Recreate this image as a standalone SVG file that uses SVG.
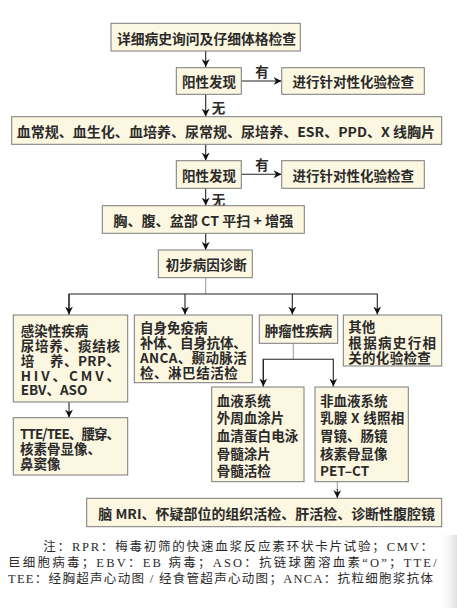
<svg xmlns="http://www.w3.org/2000/svg" width="457" height="608" viewBox="0 0 457 608">
<defs>
<style>
.box{fill:#FCF7E1;stroke:#7a7a7a;stroke-width:1}
.t{font-family:"Noto Sans CJK SC","Liberation Sans",sans-serif;font-size:13.5px;font-weight:bold;fill:#2a2a2a;dominant-baseline:central}
.c{text-anchor:middle}
.ln{stroke:#222;stroke-width:1.1;fill:none}
.gl{stroke:#999;stroke-width:1;fill:none}
.fn{font-family:"Liberation Serif","Noto Sans CJK SC",serif;font-size:12.5px;fill:#2a2a2a}
</style>
<marker id="ah" markerUnits="userSpaceOnUse" markerWidth="9" markerHeight="9" refX="8" refY="4" orient="auto">
<path d="M0,0 L8,4 L0,8 L2.5,4 z" fill="#111"/>
</marker>
<linearGradient id="sh" x1="0" y1="0" x2="1" y2="0">
<stop offset="0" stop-color="#fff" stop-opacity="0"/>
<stop offset="1" stop-color="#d8d8d8" stop-opacity="0.8"/>
</linearGradient>
</defs>
<rect width="457" height="608" fill="#fff"/>
<rect x="438" y="535" width="19" height="73" fill="url(#sh)"/>

<g id="connectors">
<line class="ln" x1="205.7" y1="51" x2="205.7" y2="67" marker-end="url(#ah)"/>
<line class="ln" x1="241.3" y1="81" x2="281.5" y2="81" marker-end="url(#ah)"/>
<line class="ln" x1="205.7" y1="94.3" x2="205.7" y2="116.5" marker-end="url(#ah)"/>
<line class="ln" x1="205.7" y1="144.3" x2="205.7" y2="160.5" marker-end="url(#ah)"/>
<line class="ln" x1="241.3" y1="174.3" x2="281.5" y2="174.3" marker-end="url(#ah)"/>
<line class="ln" x1="205.7" y1="188.3" x2="205.7" y2="205.5" marker-end="url(#ah)"/>
<line class="ln" x1="205.7" y1="233.3" x2="205.7" y2="249.8" marker-end="url(#ah)"/>
<line class="gl" x1="205.7" y1="277.7" x2="205.7" y2="294"/>
<polyline class="ln" points="69,314.5 69,294 377.3,294 377.3,314.5" marker-end="url(#ah)"/>
<line class="ln" x1="69" y1="294" x2="69" y2="314.5" marker-end="url(#ah)"/>
<line class="ln" x1="185" y1="294" x2="185" y2="314.5" marker-end="url(#ah)"/>
<line class="ln" x1="292.3" y1="294" x2="292.3" y2="314.5" marker-end="url(#ah)"/>
<line class="gl" x1="293.3" y1="343.3" x2="293.3" y2="359.3"/>
<polyline class="ln" points="263.3,386.5 263.3,359.3 333.3,359.3 333.3,386.5" marker-end="url(#ah)"/>
<line class="ln" x1="263.3" y1="359.3" x2="263.3" y2="386.5" marker-end="url(#ah)"/>
<line class="ln" x1="69" y1="402" x2="69" y2="417.5" marker-end="url(#ah)"/>
<line class="gl" x1="337.3" y1="481.7" x2="337.3" y2="490"/>
<line class="ln" x1="337.3" y1="489" x2="337.3" y2="498" marker-end="url(#ah)"/>
<text class="t c" x="262" y="71">有</text>
<text class="t c" x="218.5" y="106.5">无</text>
<text class="t c" x="262" y="164">有</text>
<text class="t c" x="218.5" y="199">无</text>
</g>

<g id="n1"><rect class="box" x="111" y="23.3" width="189.3" height="27.7"/>
<text class="t c" x="206.5" y="37.5" textLength="179" lengthAdjust="spacingAndGlyphs">详细病史询问及仔细体格检查</text></g>

<g id="n2"><rect class="box" x="176.3" y="67.7" width="65" height="26.6"/>
<text class="t c" x="209" y="81">阳性发现</text></g>

<g id="n3"><rect class="box" x="281.7" y="67.7" width="142.6" height="26.6"/>
<text class="t c" x="353.3" y="81">进行针对性化验检查</text></g>

<g id="n4"><rect class="box" x="11.7" y="116.7" width="430" height="27.6"/>
<text class="t" x="16.7" y="130.5" textLength="418.3" lengthAdjust="spacingAndGlyphs">血常规、血生化、血培养、尿常规、尿培养、ESR、PPD、X 线胸片</text></g>

<g id="n5"><rect class="box" x="176.3" y="160.7" width="65" height="27.6"/>
<text class="t c" x="209" y="174.5">阳性发现</text></g>

<g id="n6"><rect class="box" x="281.7" y="160.7" width="142.6" height="27.6"/>
<text class="t c" x="353.3" y="174.5">进行针对性化验检查</text></g>

<g id="n7"><rect class="box" x="102.3" y="205.7" width="202" height="27.6"/>
<text class="t" x="113.3" y="219.5" textLength="180" lengthAdjust="spacingAndGlyphs">胸、腹、盆部 CT 平扫 + 增强</text></g>

<g id="n8"><rect class="box" x="158.3" y="250" width="94" height="27.7"/>
<text class="t c" x="206.2" y="264">初步病因诊断</text></g>

<g id="n9"><rect class="box" x="13.3" y="315" width="114.4" height="87"/>
<text class="t" x="20.7" y="330">感染性疾病</text>
<text class="t" x="20.7" y="345" textLength="99.3" lengthAdjust="spacing">尿培养、痰结核</text>
<text class="t" x="20.7" y="360">培</text>
<text class="t" x="50" y="360" textLength="70" lengthAdjust="spacing">养、PRP、</text>
<text class="t" x="20.7" y="374.5" textLength="99.3" lengthAdjust="spacing">HIV、CMV、</text>
<text class="t" x="20.7" y="388.5">EBV、ASO</text></g>

<g id="n10"><rect class="box" x="134.3" y="315" width="118" height="67.7"/>
<text class="t" x="140" y="327">自身免疫病</text>
<text class="t" x="140" y="342.3" textLength="106.7" lengthAdjust="spacing">补体、自身抗体、</text>
<text class="t" x="140" y="357.3" textLength="106.7" lengthAdjust="spacing">ANCA、颞动脉活</text>
<text class="t" x="140" y="372.3" textLength="97.7" lengthAdjust="spacing">检、淋巴结活检</text></g>

<g id="n11"><rect class="box" x="259.3" y="315" width="78.4" height="28.3"/>
<text class="t c" x="298.5" y="329.5">肿瘤性疾病</text></g>

<g id="n12"><rect class="box" x="343.3" y="315" width="98.4" height="51"/>
<text class="t" x="348.3" y="325.5">其他</text>
<text class="t" x="348.3" y="341.7" textLength="87.7" lengthAdjust="spacing">根据病史行相</text>
<text class="t" x="348.3" y="357.3" textLength="82.4" lengthAdjust="spacing">关的化验检查</text></g>

<g id="n13"><rect class="box" x="211.7" y="387" width="92.3" height="94.7"/>
<text class="t" x="216.7" y="399.5">血液系统</text>
<text class="t" x="216.7" y="417.3">外周血涂片</text>
<text class="t" x="216.7" y="435" textLength="81.6" lengthAdjust="spacing">血清蛋白电泳</text>
<text class="t" x="216.7" y="453">骨髓涂片</text>
<text class="t" x="216.7" y="470">骨髓活检</text></g>

<g id="n14"><rect class="box" x="315" y="387" width="93.3" height="94.7"/>
<text class="t" x="320" y="399.5">非血液系统</text>
<text class="t" x="320" y="417.3" textLength="84.3" lengthAdjust="spacing">乳腺 X 线照相</text>
<text class="t" x="320" y="435">胃镜、肠镜</text>
<text class="t" x="320" y="453">核素骨显像</text>
<text class="t" x="320" y="470">PET–CT</text></g>

<g id="n15"><rect class="box" x="13.3" y="417.7" width="114.4" height="57.3"/>
<text class="t" x="20" y="433.3" textLength="100" lengthAdjust="spacing">TTE/TEE、腰穿、</text>
<text class="t" x="20" y="448.3">核素骨显像、</text>
<text class="t" x="20" y="462.7">鼻窦像</text></g>

<g id="n16"><rect class="box" x="86.7" y="498.3" width="355" height="28.4"/>
<text class="t" x="98.3" y="512.5" textLength="336.7" lengthAdjust="spacingAndGlyphs">脑 MRI、怀疑部位的组织活检、肝活检、诊断性腹腔镜</text></g>

<g id="footnote">
<text class="fn" x="43.3" y="551" textLength="389.7" lengthAdjust="spacing">注：RPR：梅毒初筛的快速血浆反应素环状卡片试验；CMV：</text>
<text class="fn" x="8" y="567" textLength="428.7" lengthAdjust="spacing">巨细胞病毒；EBV：EB 病毒；ASO：抗链球菌溶血素“O”；TTE/</text>
<text class="fn" x="8" y="582.5" textLength="425" lengthAdjust="spacing">TEE：经胸超声心动图 / 经食管超声心动图；ANCA：抗粒细胞浆抗体</text>
</g>
</svg>
